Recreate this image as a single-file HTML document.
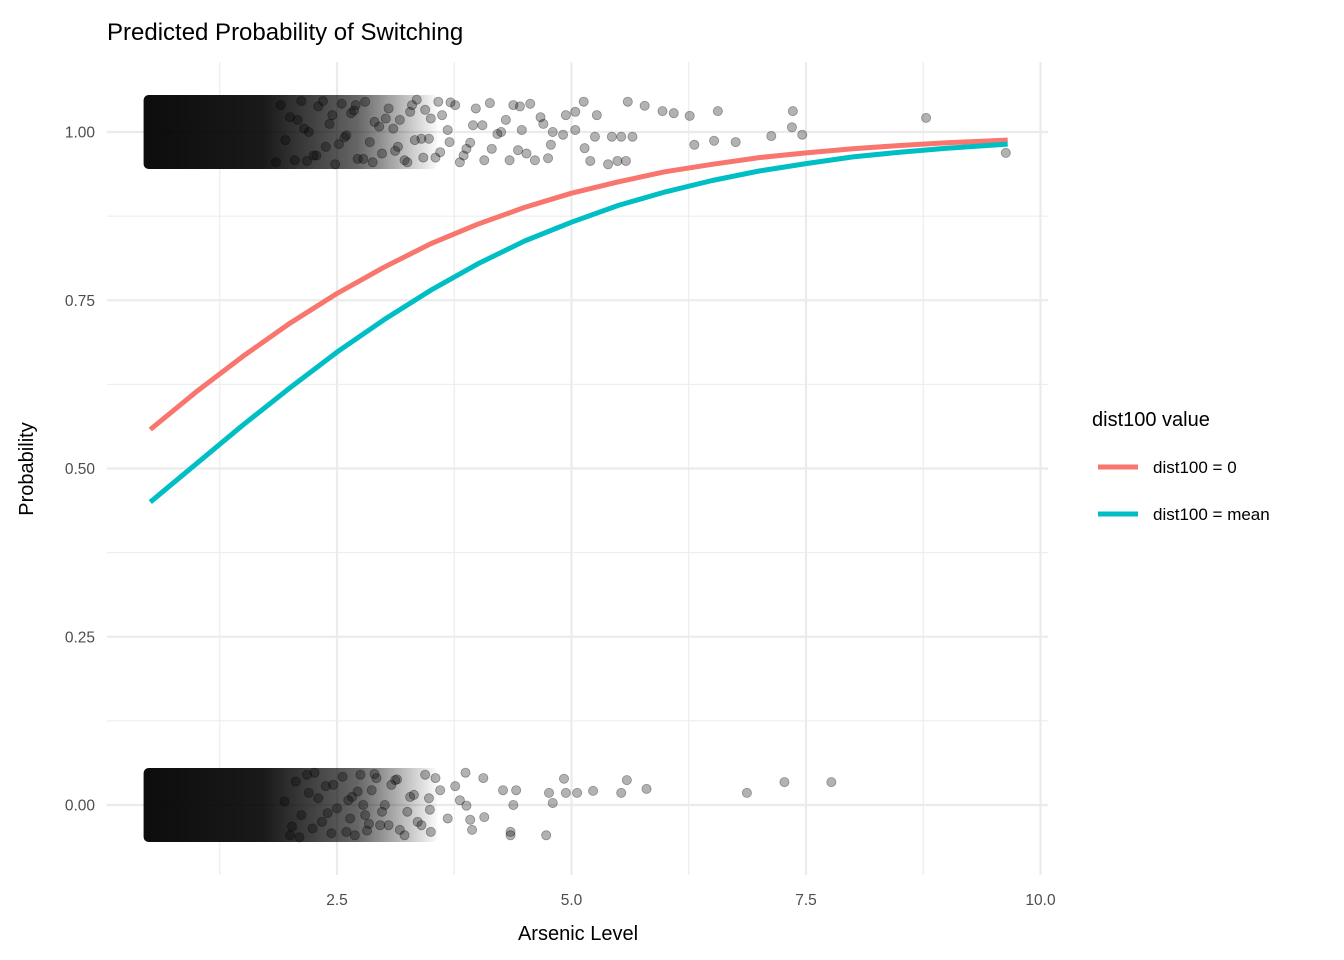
<!DOCTYPE html>
<html><head><meta charset="utf-8"><style>
html,body{margin:0;padding:0;background:#fff;}
svg{display:block;font-family:"Liberation Sans",Arial,sans-serif;}
</style></head><body>
<svg id="chart" width="1344" height="960" viewBox="0 0 1344 960">
<defs>
<linearGradient id="coreGrad" x1="146" x2="440" y1="0" y2="0" gradientUnits="userSpaceOnUse">
<stop offset="0" stop-color="#000" stop-opacity="0.95"/>
<stop offset="0.4" stop-color="#000" stop-opacity="0.9"/>
<stop offset="0.72" stop-color="#000" stop-opacity="0.6"/>
<stop offset="1" stop-color="#000" stop-opacity="0"/>
</linearGradient>
</defs>
<g id="grid"></g>
<g id="points"></g>
<g id="lines"></g>
<g id="axes"></g>
<text x="107" y="40" font-size="24" fill="#000">Predicted Probability of Switching</text>
<text x="578" y="940" font-size="20" text-anchor="middle" fill="#000">Arsenic Level</text>
<text transform="translate(33,469) rotate(-90)" font-size="20" text-anchor="middle" fill="#000">Probability</text>
<g>
<text x="1092" y="426" font-size="20" fill="#000">dist100 value</text>
<g>
<line x1="1098" x2="1138" y1="467" y2="467" stroke="#F8766D" stroke-width="5"/>
<text x="1153" y="473" font-size="17" fill="#000">dist100 = 0</text></g>
<g>
<line x1="1098" x2="1138" y1="514" y2="514" stroke="#00BFC4" stroke-width="5"/>
<text x="1153" y="520" font-size="17" fill="#000">dist100 = mean</text></g>
</g>
</svg>
<script>
const xTicks=[2.5,5.0,7.5,10.0];
const xTickLabels=["2.5","5.0","7.5","10.0"];
const xMinor=[1.25,3.75,6.25,8.75];
const yTicks=[0,0.25,0.5,0.75,1.0];
const yTickLabels=["0.00","0.25","0.50","0.75","1.00"];
const yMinor=[0.125,0.375,0.625,0.875];
const curveX=[0.51,1,1.5,2,2.5,3,3.5,4,4.5,5,5.5,6,6.5,7,7.5,8,8.5,9,9.65];
const redP=[0.558,0.614,0.667,0.716,0.760,0.799,0.834,0.863,0.888,0.909,0.926,0.941,0.952,0.962,0.969,0.975,0.980,0.984,0.988];
const blueP=[0.450,0.507,0.565,0.620,0.673,0.721,0.765,0.804,0.838,0.866,0.891,0.911,0.928,0.942,0.953,0.963,0.970,0.976,0.982];
const topX=[5.60,5.78,5.97,6.09,6.26,6.56,6.31,6.52,6.75,7.13,7.36,7.35,7.46,8.78,9.63,5.39,5.49,5.58,5.43,5.53,5.65,5.25,5.20,5.13,5.27,5.04,4.94,4.80,4.75,4.78,4.67,4.56,4.45,4.47,4.43,4.21,4.30,4.13,4.05,3.92,3.81,3.76,3.68,3.60,3.44,3.33,3.22,3.17,5.14,4.91,5.04,4.61,4.34,4.07,
3.95,3.88,3.71,3.55,3.50,3.40,3.30,3.25,3.10,3.05,2.98,2.90,2.85,2.80,2.72,2.65,2.60,2.55,2.48,2.42,2.38,2.30,2.25,2.20,2.12,2.05,2.00,1.95,1.90,1.85,3.98,3.85,3.62,3.48,3.35,3.12,2.95,2.78,2.68,2.52,2.35,2.18,2.08,4.15,4.25,4.38,4.52,4.70,3.70,3.58,3.42,3.28,3.15,3.02,2.88,2.70,2.58,2.45,2.28,2.15];
const topY=[1.045,1.039,1.031,1.028,1.024,1.031,0.981,0.987,0.985,0.994,1.031,1.007,0.996,1.021,0.969,0.952,0.957,0.957,0.993,0.993,0.993,0.993,0.957,1.045,1.025,1.003,1.025,1.0,0.961,0.981,1.022,1.042,1.038,1.003,0.973,0.997,1.018,1.043,1.010,0.984,0.955,1.040,1.003,0.970,1.033,0.988,0.958,1.018,0.976,0.996,1.030,0.958,0.958,0.958,
1.010,0.975,1.044,0.962,1.020,0.990,1.040,0.955,1.005,1.035,0.968,1.015,0.985,1.045,0.960,1.028,0.995,1.042,0.952,1.012,0.978,1.038,0.965,1.000,1.046,0.958,1.022,0.988,1.040,0.955,1.035,0.965,1.025,0.990,1.048,0.972,1.008,0.960,1.032,0.982,1.046,0.957,1.018,0.975,1.000,1.040,0.968,1.012,0.985,1.045,0.962,1.030,0.978,1.020,0.955,1.040,0.992,1.025,0.965,1.005];
const botX=[7.77,7.27,6.87,5.80,5.59,5.53,5.23,5.06,4.94,4.92,4.76,4.80,4.73,4.35,4.35,4.38,4.41,4.27,4.07,3.94,3.92,3.88,3.87,4.06,3.76,3.81,3.60,3.49,3.44,3.36,3.28,3.17,3.12,3.01,2.96,2.87,2.80,2.75,2.69,2.62,
3.55,3.40,3.32,3.22,3.08,2.98,2.90,2.82,2.72,2.64,2.56,2.50,2.44,2.38,2.30,2.24,2.18,2.12,2.06,2.00,1.94,3.68,3.48,3.25,3.05,2.92,2.78,2.60,2.46,2.34,2.20,2.10,3.50,3.14,2.84,2.66,2.40,2.26,2.02];
const botY=[0.034,0.034,0.018,0.024,0.037,0.018,0.021,0.018,0.018,0.039,0.018,0.003,-0.045,-0.040,-0.045,0,0.022,0.022,-0.018,-0.037,-0.022,-0.001,0.048,0.040,0.028,0.007,0.022,-0.007,0.045,-0.025,0.012,-0.037,0.037,0.0,-0.030,0.022,-0.015,0.045,-0.045,0.007,
0.040,-0.030,0.015,-0.045,0.030,-0.010,0.046,-0.038,0.020,-0.020,0.042,-0.005,-0.042,0.028,0.010,-0.035,0.045,-0.015,0.035,-0.045,0.005,-0.020,0.010,-0.010,-0.030,0.040,0.000,-0.040,0.030,-0.025,0.018,-0.048,-0.040,0.038,-0.028,0.012,-0.012,0.048,-0.032];
// dense core extents (arsenic range where jittered points saturate)
const coreRange=[0.47,3.6];

const NS="http://www.w3.org/2000/svg";
const X=v=>102.5+v*93.8;
const Y=p=>805-p*673;
const PL=107,PR=1048,PT=62,PB=875;
function mk(tag,attrs,parent){const e=document.createElementNS(NS,tag);for(const k in attrs)e.setAttribute(k,attrs[k]);parent.appendChild(e);return e;}
const grid=document.getElementById('grid');
xMinor.forEach(v=>{const l=mk('line',{x1:X(v),x2:X(v),y1:PT,y2:PB,stroke:'#ebebeb','stroke-width':1.1},grid);

});
yMinor.forEach(v=>{const l=mk('line',{x1:PL,x2:PR,y1:Y(v),y2:Y(v),stroke:'#ebebeb','stroke-width':1.1},grid);

});
xTicks.forEach(v=>{const l=mk('line',{x1:X(v),x2:X(v),y1:PT,y2:PB,stroke:'#ebebeb','stroke-width':2.2},grid);

});
yTicks.forEach(v=>{const l=mk('line',{x1:PL,x2:PR,y1:Y(v),y2:Y(v),stroke:'#ebebeb','stroke-width':2.2},grid);

});
const axes=document.getElementById('axes');
xTicks.forEach((v,i)=>{const t=mk('text',{x:X(v),y:905,'font-size':15.5,'text-anchor':'middle',fill:'#4d4d4d'},axes);t.textContent=xTickLabels[i];

});
yTicks.forEach((v,i)=>{const t=mk('text',{x:95,y:Y(v)+5.5,'font-size':15.5,'text-anchor':'end',fill:'#4d4d4d'},axes);t.textContent=yTickLabels[i];

});
const pts=document.getElementById('points');
[[1.0],[0.0]].forEach(c=>{const r=mk('rect',{x:X(coreRange[0])-3,y:Y(c[0]+0.055),width:X(coreRange[1])-X(coreRange[0]),height:Y(c[0]-0.055)-Y(c[0]+0.055),rx:5,fill:'url(#coreGrad)'},pts);

});
function dots(xs,ys){xs.forEach((v,i)=>{const c=mk('circle',{cx:X(v),cy:Y(ys[i]),r:4.6,fill:'rgba(0,0,0,0.3)',stroke:'rgba(0,0,0,0.35)','stroke-width':0.8},pts);

});}
dots(topX,topY);dots(botX,botY);
const lines=document.getElementById('lines');
function curve(ps,col,name){const d=curveX.map((v,i)=>(i?'L':'M')+X(v).toFixed(1)+' '+Y(ps[i]).toFixed(1)).join(' ');
const p=mk('path',{d:d,fill:'none',stroke:col,'stroke-width':5,'stroke-linejoin':'round'},lines);

}
curve(redP,'#F8766D','curve-dist100-0');
curve(blueP,'#00BFC4','curve-dist100-mean');
</script>
</body></html>
